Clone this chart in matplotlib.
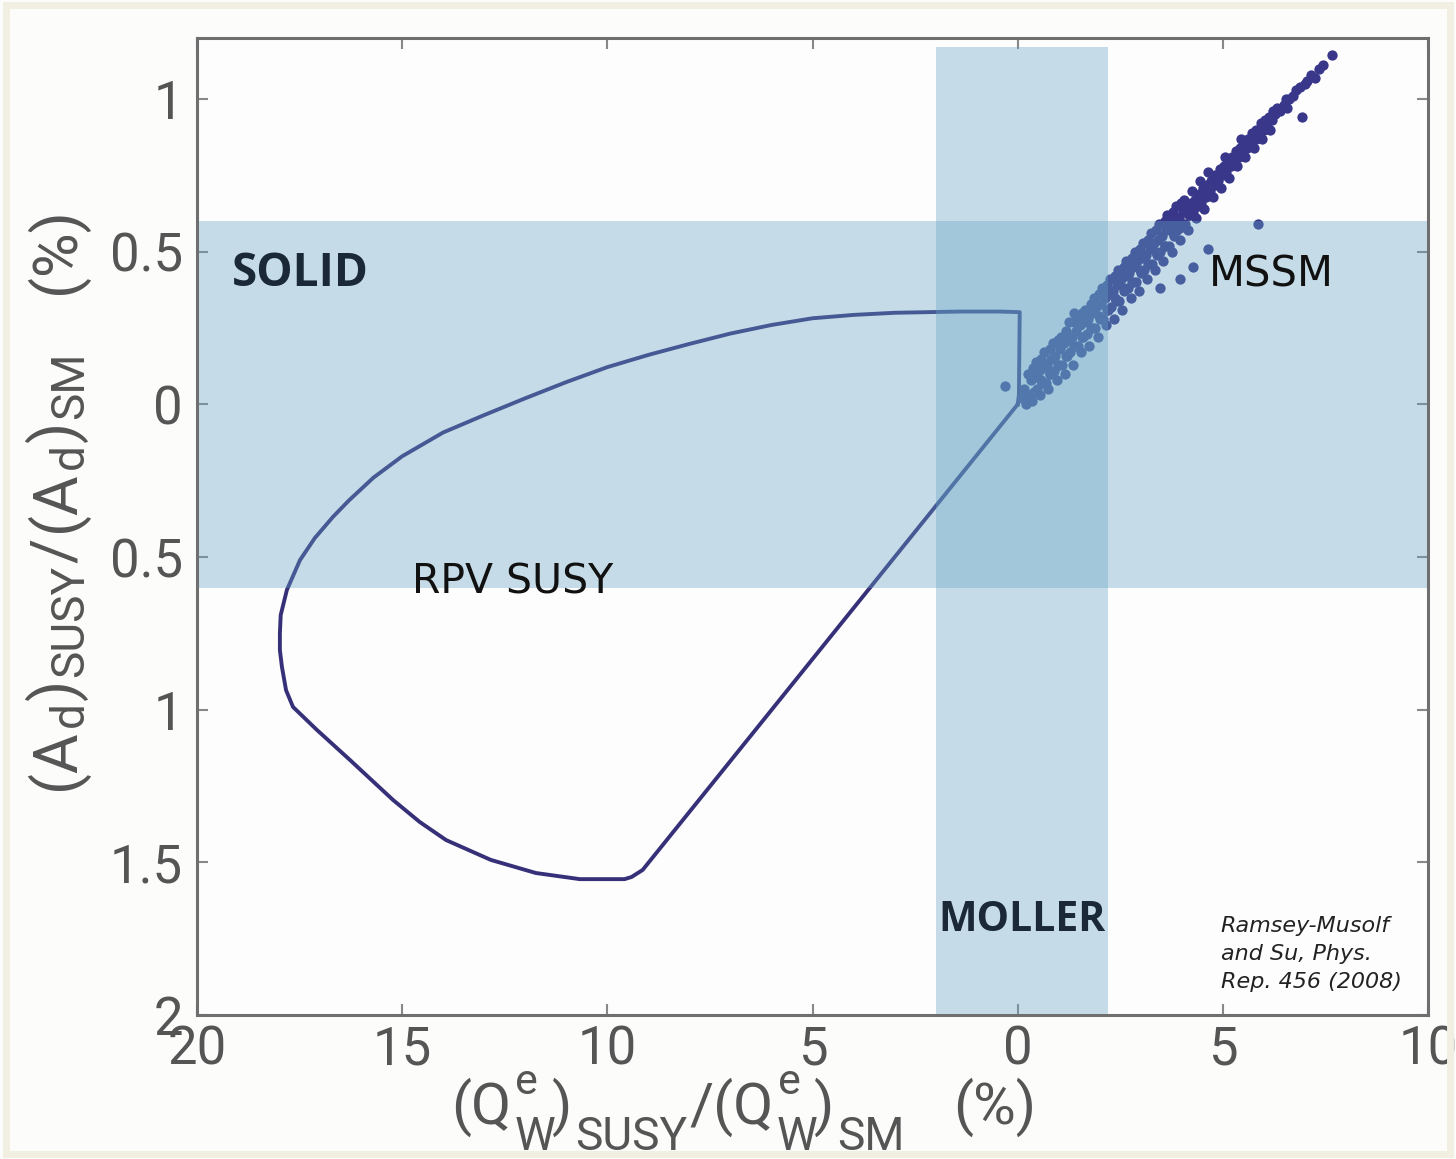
import matplotlib
matplotlib.use("Agg")
import matplotlib.pyplot as plt
from matplotlib import font_manager
from matplotlib.patches import Rectangle

# ---------------- data ----------------
rpv_x = [0.00, 0.03, 0.05, -0.43, -1.41, -2.21, -3.00, -4.00, -5.00, -6.00, -7.00,
         -8.00, -9.00, -10.00, -11.00, -12.00, -13.00, -14.00, -15.00, -15.70, -16.30,
         -16.69, -17.13, -17.49, -17.81, -17.96, -17.98, -17.98, -17.93, -17.83,
         -17.66, -17.08, -16.27, -15.22, -14.57, -13.93, -12.84, -11.74, -10.67,
         -9.58, -9.41, -9.14, 0.00]
rpv_y = [0.00, 0.03, 0.302, 0.304, 0.304, 0.302, 0.300, 0.293, 0.282, 0.260, 0.232,
         0.198, 0.162, 0.122, 0.073, 0.020, -0.035, -0.092, -0.170, -0.240, -0.315,
         -0.369, -0.438, -0.510, -0.608, -0.690, -0.749, -0.805, -0.860, -0.936,
         -0.991, -1.066, -1.165, -1.296, -1.368, -1.427, -1.492, -1.535, -1.555,
         -1.555, -1.548, -1.525, 0.00]

mssm_x = [0.10, 0.15, 0.20,
          0.28, 0.32, 0.35, 0.25,
          0.48, 0.52, 0.55, 0.45, 0.58,
          0.68, 0.72, 0.75, 0.65, 0.78,
          0.88, 0.92, 0.95, 0.85, 0.98,
          1.08, 1.12, 1.15, 1.05, 1.18,
          1.28, 1.32, 1.35, 1.25, 1.38,
          1.48, 1.52, 1.55, 1.45, 1.58,
          1.68, 1.72, 1.75, 1.65, 1.78,
          1.88, 1.92, 1.95, 1.85, 1.98,
          2.08, 2.12, 2.15, 2.05, 2.18,
          2.28, 2.32, 2.35, 2.25, 2.38,
          2.48, 2.52, 2.55, 2.45, 2.58,
          2.68, 2.72, 2.75, 2.65, 2.78,
          2.88, 2.92, 2.95, 2.85, 2.98,
          3.08, 3.12, 3.15, 3.05, 3.18,
          3.28, 3.32, 3.35, 3.25, 3.38,
          3.48, 3.52, 3.55, 3.45, 3.58,
          3.68, 3.72, 3.75, 3.65, 3.78,
          3.88, 3.92, 3.95, 3.85, 3.98,
          4.08, 4.12, 4.15, 4.05, 4.18,
          4.28, 4.32, 4.35, 4.25,
          4.48, 4.52, 4.55, 4.45,
          4.68, 4.72, 4.75, 4.65,
          4.88, 4.92, 4.95,
          5.08, 5.12, 5.15, 5.05,
          5.28, 5.32, 5.35,
          5.48, 5.52, 5.55, 5.45,
          5.68, 5.72, 5.75,
          5.88, 5.92, 5.96,
          6.08, 6.12, 6.16,
          6.28, 6.33,
          6.48, 6.53, 6.56,
          6.72, 6.78,
          7.00, 7.05,
          7.35,
          0.40, 0.42, 0.38, 0.60, 0.62, 0.58, 0.80, 0.82, 0.78,
          1.00, 1.02, 0.98, 1.20, 1.22, 1.18, 1.40, 1.42, 1.38,
          1.60, 1.62, 1.58, 1.80, 1.82, 1.78, 2.00, 2.02, 1.98,
          2.20, 2.22, 2.18, 2.40, 2.42, 2.38, 2.60, 2.62, 2.58,
          2.80, 2.82, 2.78, 3.00, 3.02, 2.98, 3.20, 3.22, 3.18,
          3.40, 3.42, 3.38, 3.60, 3.62, 3.58, 3.80, 3.82, 3.78,
          4.00, 4.02, 3.98, 4.20, 4.22, 4.40, 4.42, 4.60, 4.62,
          4.80, 4.82, 5.00, 5.02, 5.20, 5.22, 5.40, 5.42, 5.60, 5.62,
          5.80, 5.82, 6.00, 6.02, 6.20, 6.22, 6.40, 6.62, 6.88, 7.15, 7.45,
          -0.31, 7.66, 5.86, 6.93, 4.64, 4.28, 3.96, 3.47, 1.37, 7.25]
mssm_y = [0.02, 0.05, 0.00,
          0.03, 0.08, 0.01, 0.10,
          0.05, 0.11, 0.03, 0.14, 0.08,
          0.07, 0.13, 0.05, 0.17, 0.10,
          0.11, 0.16, 0.08, 0.20, 0.13,
          0.13, 0.20, 0.10, 0.22, 0.16,
          0.17, 0.22, 0.13, 0.27, 0.19,
          0.19, 0.26, 0.17, 0.29, 0.22,
          0.23, 0.28, 0.19, 0.31, 0.25,
          0.25, 0.32, 0.22, 0.35, 0.29,
          0.28, 0.35, 0.26, 0.38, 0.31,
          0.32, 0.37, 0.28, 0.41, 0.35,
          0.34, 0.41, 0.31, 0.44, 0.38,
          0.38, 0.43, 0.35, 0.47, 0.40,
          0.40, 0.47, 0.37, 0.50, 0.44,
          0.44, 0.49, 0.41, 0.53, 0.46,
          0.46, 0.53, 0.44, 0.56, 0.50,
          0.50, 0.55, 0.47, 0.59, 0.52,
          0.52, 0.59, 0.50, 0.62, 0.56,
          0.57, 0.61, 0.54, 0.65, 0.58,
          0.59, 0.65, 0.57, 0.67, 0.62,
          0.63, 0.67, 0.61, 0.70,
          0.66, 0.71, 0.64, 0.73,
          0.70, 0.73, 0.68, 0.76,
          0.73, 0.77, 0.71,
          0.76, 0.80, 0.74, 0.81,
          0.79, 0.83, 0.78,
          0.82, 0.86, 0.81, 0.87,
          0.85, 0.89, 0.84,
          0.88, 0.92, 0.87,
          0.92, 0.94, 0.90,
          0.95, 0.97,
          0.98, 1.00, 0.97,
          1.01, 1.03,
          1.05, 1.06,
          1.10,
          0.04, 0.09, 0.12, 0.07, 0.12, 0.15, 0.10, 0.15, 0.18,
          0.13, 0.18, 0.21, 0.16, 0.21, 0.24, 0.19, 0.24, 0.27,
          0.22, 0.27, 0.30, 0.25, 0.30, 0.33, 0.28, 0.33, 0.36,
          0.31, 0.36, 0.39, 0.34, 0.39, 0.42, 0.37, 0.42, 0.45,
          0.40, 0.45, 0.48, 0.43, 0.48, 0.51, 0.46, 0.51, 0.54,
          0.49, 0.54, 0.57, 0.52, 0.57, 0.60, 0.55, 0.60, 0.63,
          0.58, 0.63, 0.66, 0.62, 0.66, 0.65, 0.69, 0.68, 0.72,
          0.72, 0.75, 0.75, 0.78, 0.78, 0.81, 0.81, 0.84, 0.84, 0.87,
          0.87, 0.90, 0.90, 0.93, 0.93, 0.96, 0.96, 1.00, 1.04, 1.08, 1.11,
          0.06, 1.144, 0.59, 0.94, 0.51, 0.45, 0.41, 0.38, 0.30, 1.07]

x_ticks = [-20, -15, -10, -5, 0, 5, 10]
x_tick_labels = ["20", "15", "10", "5", "0", "5", "10"]
y_ticks = [1, 0.5, 0, -0.5, -1, -1.5, -2]
y_tick_labels = ["1", "0.5", "0", "0.5", "1", "1.5", "2"]

solid_band = [-0.6, 0.6]
moller_band = [-2.0, 2.2]
moller_top = 1.17

# ---------------- fonts ----------------
avail = {f.name for f in font_manager.fontManager.ttflist}
def pick(cands):
    for c in cands:
        if c in avail:
            return c
    return "DejaVu Sans"

tick_font = pick(["Roboto", "Liberation Sans"])
bold_font = pick(["Open Sans", "Lato", "DejaVu Sans"])
plt.rcParams["font.family"] = [tick_font, "DejaVu Sans"]

W, H = 1456, 1159
fig = plt.figure(figsize=(W / 100, H / 100), dpi=100)
fig.patch.set_facecolor("#fcfcfb")
fig.patches.append(Rectangle((0.004, 0.004), 0.992, 0.992, transform=fig.transFigure,
                             fill=False, edgecolor="#f1efe2", lw=5))

ax = fig.add_axes([197 / W, 1 - 1015 / H, (1428 - 197) / W, (1015 - 38) / H])
ax.set_facecolor("#fdfdfd")
ax.set_xlim(-20, 10)
ax.set_ylim(-2, 1.2)

line_col = "#363079"
dot_col = "#38378a"
ax.plot(rpv_x, rpv_y, color=line_col, lw=2.8, zorder=2, solid_joinstyle="round")
ax.scatter(mssm_x, mssm_y, s=55, color=dot_col, linewidths=0, zorder=2)

band_col = "#64a4c5"
band_alpha = 0.36
ax.axhspan(solid_band[0], solid_band[1], color=band_col, alpha=band_alpha, lw=0, zorder=3)
ax.axvspan(moller_band[0], moller_band[1], ymin=0, ymax=(moller_top + 2) / 3.2,
           color=band_col, alpha=band_alpha, lw=0, zorder=3)

# labels inside plot
ax.text(-19.15, 0.43, "SOLID", fontsize=33, fontweight="bold", family=[bold_font, "DejaVu Sans"],
        color="#1b2836", ha="left", va="center", zorder=5)
ax.text(0.1, -1.69, "MOLLER", fontsize=29.5, fontweight="bold", family=[bold_font, "DejaVu Sans"],
        color="#1b2836", ha="center", va="center", zorder=5)
ax.text(4.65, 0.425, "MSSM", fontsize=30, family="DejaVu Sans", color="#111111",
        ha="left", va="center", zorder=5)
ax.text(-14.75, -0.585, "RPV SUSY", fontsize=29.5, family="DejaVu Sans", color="#111111",
        ha="left", va="center", zorder=5)
ax.text(4.95, -1.80, "Ramsey-Musolf\nand Su, Phys.\nRep. 456 (2008)", fontsize=16,
        family="DejaVu Sans", style="italic", color="#222222", ha="left", va="center",
        linespacing=1.5, zorder=5)

# ticks
ax.set_xticks(x_ticks)
ax.set_xticklabels(x_tick_labels)
ax.set_yticks(y_ticks)
ax.set_yticklabels(y_tick_labels)
ax.tick_params(direction="in", length=8, width=1.5, color="#888888", labelcolor="#555555",
               labelsize=38, top=True, right=True)
ax.tick_params(axis="x", pad=7)
ax.tick_params(axis="y", pad=10)
for s in ax.spines.values():
    s.set_color("#6f6f6f")
    s.set_linewidth(2.2)
    s.set_zorder(6)

# axis labels built from pieces (text, size, baseline shift px, gap px, advance)
renderer = fig.canvas.get_renderer()
lab_col = "#555555"

def seq_text(start, base, pieces, vertical=False):
    pos = start
    for txt, size, shift, gap, adv in pieces:
        p = pos + (gap if not vertical else -gap)
        if not vertical:
            t = fig.text(p / W, 1 - (base + shift) / H, txt, fontsize=size, color=lab_col,
                         ha="left", va="baseline")
            w = t.get_window_extent(renderer).width
            if adv:
                pos = p + w
        else:
            t = fig.text((base + shift) / W, 1 - p / H, txt, fontsize=size, color=lab_col,
                         ha="left", va="baseline", rotation=90, rotation_mode="anchor")
            h = t.get_window_extent(renderer).height
            if adv:
                pos = p - h

seq_text(451, 1124, [("(Q", 42, 0, 0, True),
                     ("e", 31, -30, 4, False),
                     ("W", 33, 26, 3, True),
                     (")", 42, 0, -3, True),
                     ("SUSY", 33, 26, 3, True),
                     ("/(Q", 42, 0, 2, True),
                     ("e", 31, -30, 4, False),
                     ("W", 33, 26, 3, True),
                     (")", 42, 0, -3, True),
                     ("SM", 33, 26, 3, True),
                     ("(%)", 42, 0, 48, True)])

seq_text(790, 74, [("(A", 44, 0, 0, True),
                   ("d", 33, 9, 2, True),
                   (")", 44, 0, 1, True),
                   ("SUSY", 33, 9, 2, True),
                   ("/", 44, 0, 2, True),
                   ("(A", 44, 0, 6, True),
                   ("d", 33, 9, 2, True),
                   (")", 44, 0, 1, True),
                   ("SM", 33, 9, 2, True),
                   ("(%)", 44, 0, 58, True)], vertical=True)

fig.savefig("out.png", dpi=100, facecolor=fig.get_facecolor())
